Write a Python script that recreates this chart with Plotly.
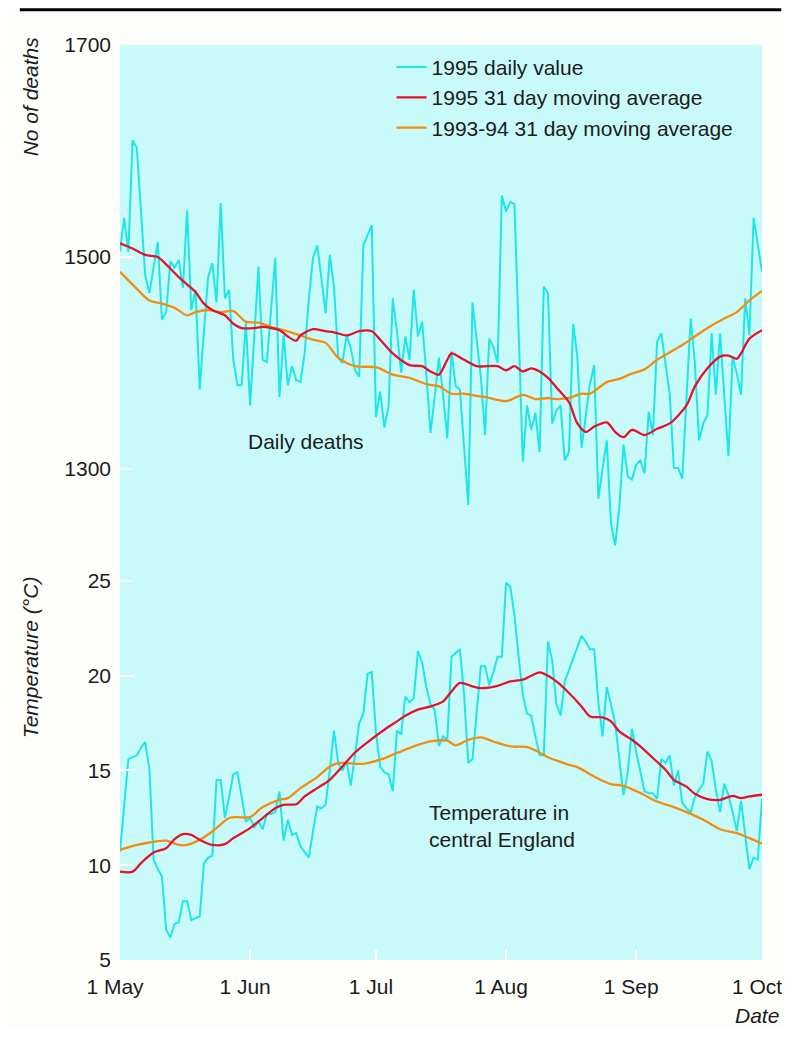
import datetime as dt
import plotly.graph_objects as go

START = dt.date(1995, 5, 1)

# ---- Daily deaths 1995 (1 May .. 1 Oct) ----
deaths_daily = [1505,1537,1505,1610,1603,1540,1483,1466,1490,1514,
1441,1448,1496,1490,1497,1471,1544,1450,1469,1375,
1430,1481,1494,1457,1551,1461,1469,1403,1379,1379,
1438,1360,1425,1491,1403,1401,1450,1499,1368,1426,
1379,1397,1384,1382,1409,1460,1499,1511,1480,1447,
1502,1472,1405,1400,1426,1414,1393,1387,1511,1520,
1530,1349,1373,1339,1359,1461,1430,1391,1425,1403,
1469,1425,1439,1390,1334,1368,1405,1370,1329,1411,
1378,1375,1320,1266,1457,1420,1387,1332,1423,1415,
1400,1558,1543,1552,1550,1430,1307,1360,1337,1353,
1316,1472,1466,1343,1355,1360,1308,1316,1437,1406,
1320,1350,1380,1398,1272,1300,1327,1249,1228,1264,
1323,1293,1290,1304,1308,1296,1354,1332,1420,1428,
1400,1371,1301,1301,1291,1370,1442,1400,1327,1343,
1351,1428,1370,1428,1370,1312,1406,1390,1370,1461,
1426,1537,1512,1486]

# ---- Daily temperature 1995 ----
temp_daily = [10.7,13.2,15.6,15.7,15.8,16.2,16.5,15.1,10.3,9.8,
9.4,6.6,6.2,6.9,7.0,8.1,8.1,7.1,7.2,7.3,
10.1,10.4,10.5,14.5,14.5,12.5,13.6,14.8,14.9,13.5,
12.3,12.5,12.0,12.3,11.9,12.7,12.7,12.8,13.9,11.3,
12.4,11.6,11.7,11.0,10.7,10.4,11.8,13.1,13.0,13.2,
15.0,17.1,15.4,15.0,15.5,14.2,15.8,17.5,18.0,20.1,
20.2,17.0,15.2,14.9,14.8,13.9,17.1,16.9,18.9,18.6,
18.8,21.3,20.7,19.4,18.5,18.2,16.3,16.8,16.6,21.0,
21.2,21.4,19.0,15.4,15.6,18.0,20.5,20.5,19.5,20.2,
21.0,21.0,24.9,24.7,23.2,21.0,19.0,18.0,17.9,16.8,
15.8,15.8,21.8,20.8,18.5,17.9,19.7,20.3,20.9,21.5,
22.1,21.8,21.4,21.4,18.6,16.8,19.4,18.5,17.5,15.6,
13.7,14.9,17.2,16.0,14.9,13.9,13.8,13.8,13.5,15.6,
15.4,15.8,14.2,15.0,13.3,13.0,12.8,13.6,14.0,14.3,
16.0,15.5,14.0,12.8,14.3,13.7,12.8,11.8,13.4,11.6,
9.8,10.4,10.3,13.5]

# ---- 31 day moving averages (day offsets from 1 May, values) ----
deaths_ma95_days = [0,3,6,9,11,14,16,18,20,22,25,27,29,32,34,38,40,42,43,46,
                    49,51,54,57,60,62,65,69,72,74,76,78,79,82,85,90,92,94,96,98,
                    100,102,104,107,109,111,113,116,118,120,122,125,128,131,135,137,140,143,145,147,
                    148,150,153]
deaths_ma95 = [1513,1508,1502,1500,1493,1481,1474,1467,1456,1450,1445,1437,1433,1433,1434,1431,1425,1421,1426,1432,
               1430,1429,1426,1430,1430,1422,1409,1398,1397,1392,1389,1403,1409,1403,1397,1397,1393,1397,1392,1395,
               1392,1386,1377,1363,1343,1335,1340,1344,1335,1330,1337,1332,1338,1343,1360,1378,1395,1406,1407,1404,
               1409,1423,1431]

deaths_ma9394_days = [0,2,4,7,10,13,16,18,21,24,27,30,33,36,39,43,46,49,52,56,
                      61,65,69,73,76,79,82,85,87,92,96,99,102,104,107,110,112,116,119,122,
                      125,128,131,134,137,140,144,147,150,153]
deaths_ma9394 = [1486,1478,1470,1459,1456,1452,1445,1448,1450,1448,1449,1439,1438,1434,1431,1426,1422,1419,1405,1397,
                 1396,1389,1386,1380,1378,1371,1371,1369,1368,1364,1370,1366,1367,1366,1367,1371,1371,1382,1385,1390,
                 1394,1403,1410,1417,1425,1433,1442,1448,1459,1468]

temp_ma95_days = [0,3,5,8,11,13,15,17,19,22,25,27,31,34,37,39,42,44,47,50,
                  53,56,60,63,66,68,71,74,77,79,81,84,86,90,93,96,98,100,102,104,
                  107,110,112,115,117,119,122,124,127,130,132,135,137,140,143,146,148,150,153]
temp_ma95 = [9.66,9.66,10.11,10.67,10.90,11.38,11.64,11.60,11.34,11.07,11.11,11.43,11.96,12.49,13.01,13.19,13.22,13.63,14.07,14.51,
             15.21,15.95,16.66,17.15,17.59,17.89,18.21,18.38,18.65,19.17,19.62,19.44,19.35,19.47,19.70,19.79,20.0,20.18,20.0,19.70,
             19.09,18.38,17.85,17.80,17.59,17.06,16.62,16.27,15.66,15.04,14.51,14.15,13.77,13.49,13.45,13.66,13.54,13.63,13.72]

temp_ma9394_days = [0,4,7,11,14,16,19,22,26,28,31,34,38,40,43,47,50,52,58,62,
                    66,70,74,78,80,83,86,89,93,97,100,102,105,107,109,113,117,120,124,128,
                    132,136,139,143,147,150,153]
temp_ma9394 = [10.81,11.07,11.20,11.30,11.07,11.07,11.34,11.78,12.49,12.54,12.54,13.07,13.45,13.54,14.07,14.65,15.21,15.39,15.35,15.57,
               15.92,16.27,16.53,16.57,16.32,16.62,16.75,16.53,16.27,16.23,15.95,15.7,15.45,15.30,15.18,14.68,14.28,14.19,13.81,13.36,
               13.07,12.71,12.40,11.90,11.69,11.43,11.13]

legend_names = ["1995 daily value", "1995 31 day moving average", "1993-94 31 day moving average"]
month_ticks = ["1995-05-01", "1995-06-01", "1995-07-01", "1995-08-01", "1995-09-01", "1995-10-01"]
month_labels = ["1 May", "1 Jun", "1 Jul", "1 Aug", "1 Sep", "1 Oct"]
deaths_ticks = [1300, 1500, 1700]
temp_ticks = [5, 10, 15, 20, 25]


def dates(offsets):
    return [START + dt.timedelta(days=d) for d in offsets]


daily_dates = dates(range(len(deaths_daily)))

CYAN = "#1fe6e6"
RED = "#e3132b"
ORANGE = "#f18d12"
FONT = "Liberation Sans, Arial, sans-serif"
TXT = "#1c1c1c"

fig = go.Figure()
# Deaths panel
fig.add_trace(go.Scatter(x=daily_dates, y=deaths_daily, mode="lines", name=legend_names[0],
                         line=dict(color=CYAN, width=2), yaxis="y", legendrank=1))
fig.add_trace(go.Scatter(x=dates(deaths_ma9394_days), y=deaths_ma9394, mode="lines", name=legend_names[2],
                         line=dict(color=ORANGE, width=2.3, shape="spline", smoothing=0.8), yaxis="y",
                         legendrank=3))
fig.add_trace(go.Scatter(x=dates(deaths_ma95_days), y=deaths_ma95, mode="lines", name=legend_names[1],
                         line=dict(color=RED, width=2.3, shape="spline", smoothing=0.8), yaxis="y",
                         legendrank=2))
# Temperature panel
fig.add_trace(go.Scatter(x=daily_dates, y=temp_daily, mode="lines", showlegend=False,
                         line=dict(color=CYAN, width=2), yaxis="y2"))
fig.add_trace(go.Scatter(x=dates(temp_ma9394_days), y=temp_ma9394, mode="lines", showlegend=False,
                         line=dict(color=ORANGE, width=2.3, shape="spline", smoothing=0.8), yaxis="y2"))
fig.add_trace(go.Scatter(x=dates(temp_ma95_days), y=temp_ma95, mode="lines", showlegend=False,
                         line=dict(color=RED, width=2.3, shape="spline", smoothing=0.8), yaxis="y2"))

tickfont = dict(family=FONT, size=21, color=TXT)

# The page body adds an 8px margin; the figure is sized so the plot lands where the reference has it.
fig.update_layout(
    width=776, height=1021,
    margin=dict(l=112, r=22, t=37, b=69, autoexpand=False),
    paper_bgcolor="#fdfdfa",
    plot_bgcolor="#c8fafa",
    font=dict(family=FONT, size=21, color=TXT),
    showlegend=True,
    legend=dict(x=0.423, y=0.998, xanchor="left", yanchor="top",
                bgcolor="rgba(0,0,0,0)", font=dict(family=FONT, size=21, color=TXT),
                tracegroupgap=0, itemwidth=30),
    xaxis=dict(type="date", range=["1995-05-01", "1995-10-01"],
               tickvals=month_ticks, ticktext=month_labels, automargin=False,
               ticks="inside", ticklen=10, tickwidth=2, tickcolor="white",
               showgrid=False, zeroline=False, showline=False,
               tickfont=tickfont, ticklabelstandoff=12, ticklabelshift=-5),
    yaxis=dict(range=[836.8, 1700], tickvals=deaths_ticks, automargin=False,
               ticks="inside", ticklen=14, tickwidth=2, tickcolor="white",
               showgrid=False, zeroline=False, showline=False,
               tickfont=tickfont, ticklabelstandoff=8),
    yaxis2=dict(range=[5, 53.28], tickvals=temp_ticks, overlaying="y", side="left", anchor="x",
                automargin=False,
                ticks="inside", ticklen=14, tickwidth=2, tickcolor="white",
                showgrid=False, zeroline=False, showline=False,
                tickfont=tickfont, ticklabelstandoff=8),
)

# top rule
fig.add_shape(type="line", xref="paper", yref="paper", x0=-0.156, x1=1.03, y0=1.0385, y1=1.0385,
              line=dict(color="black", width=3))

ann_font = dict(family=FONT, size=21, color=TXT)
ital = dict(family=FONT, size=21, color=TXT, style="italic")
fig.add_annotation(text="No of deaths", xref="paper", yref="paper", x=-0.14, y=0.944,
                   textangle=-90, showarrow=False, font=ital, xanchor="center", yanchor="middle")
fig.add_annotation(text="Temperature (°C)", xref="paper", yref="paper", x=-0.14, y=0.331,
                   textangle=-90, showarrow=False, font=ital, xanchor="center", yanchor="middle")
fig.add_annotation(text="Date", xref="paper", yref="paper", x=1.03, y=-0.061,
                   showarrow=False, font=ital, xanchor="right", yanchor="middle")
fig.add_annotation(text="Daily deaths", xref="paper", yref="paper", x=0.29, y=0.567,
                   showarrow=False, font=ann_font, xanchor="center", yanchor="middle")
fig.add_annotation(text="Temperature in<br>central England", xref="paper", yref="paper", x=0.478, y=0.146,
                   showarrow=False, font=ann_font, xanchor="left", yanchor="middle", align="left")

fig.write_html("out.html")
